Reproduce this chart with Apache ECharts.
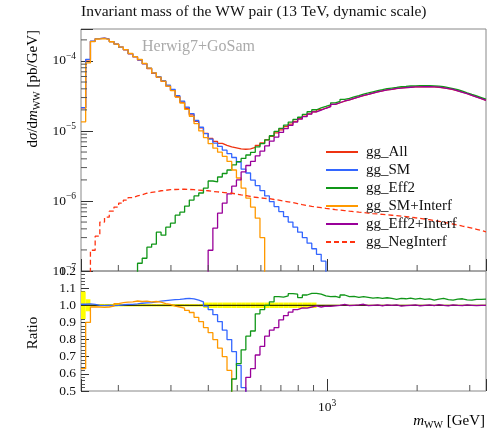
<!DOCTYPE html>
<html><head><meta charset="utf-8">
<script src="https://cdn.jsdelivr.net/npm/echarts@6/dist/echarts.min.js"></script>
<style>html,body{margin:0;padding:0;background:#fff}#c{width:497px;height:428px}</style>
</head><body><div id="c"></div>
<script>
// bin edges of m_WW [GeV]
const binEdges = [150,155.5,161.3,167.3,173.4,179.8,186.5,193.4,200.5,207.9,215.6,223.6,231.9,240.4,249.3,258.5,268.1,278.0,288.3,298.9,310.0,321.4,333.3,345.6,358.4,371.7,385.4,399.6,414.4,429.7,445.6,462.1,479.2,496.9,515.2,534.3,554.0,574.5,595.7,617.7,640.6,664.2,688.8,714.3,740.6,768.0,796.4,825.8,856.4,888.0,920.8,954.9,990.1,1027,1065,1104,1145,1187,1231,1277,1324,1373,1423,1476,1531,1587,1646,1707,1770,1835,1903,1973,2046,2122,2200,2282,2366,2453,2544,2638,2736,2837,2941,3050,3163,3280,3400];
const N = null;
const ggAll = [2.14e-5,1.04e-4,1.91e-4,2.08e-4,2.12e-4,2.05e-4,1.89e-4,1.74e-4,1.57e-4,1.44e-4,1.26e-4,1.14e-4,1.03e-4,9.06e-5,7.76e-5,6.64e-5,5.82e-5,5.10e-5,4.38e-5,3.79e-5,3.08e-5,2.57e-5,2.11e-5,1.70e-5,1.37e-5,1.11e-5,9.24e-6,7.83e-6,7.10e-6,6.64e-6,6.22e-6,5.92e-6,5.73e-6,5.54e-6,5.48e-6,5.54e-6,5.82e-6,6.22e-6,6.76e-6,7.46e-6,8.37e-6,9.40e-6,1.04e-5,1.15e-5,1.25e-5,1.37e-5,1.50e-5,1.63e-5,1.76e-5,1.88e-5,2.01e-5,2.12e-5,2.24e-5,2.40e-5,2.53e-5,2.67e-5,2.79e-5,2.92e-5,3.06e-5,3.21e-5,3.34e-5,3.48e-5,3.61e-5,3.74e-5,3.85e-5,3.94e-5,4.04e-5,4.12e-5,4.17e-5,4.21e-5,4.25e-5,4.27e-5,4.28e-5,4.28e-5,4.27e-5,4.21e-5,4.14e-5,4.04e-5,3.91e-5,3.75e-5,3.58e-5,3.40e-5,3.23e-5,3.06e-5,2.90e-5,2.74e-5];
const ggSM = [2.15e-5,1.05e-4,1.92e-4,2.08e-4,2.12e-4,2.05e-4,1.89e-4,1.74e-4,1.57e-4,1.45e-4,1.27e-4,1.15e-4,1.04e-4,9.17e-5,7.88e-5,6.77e-5,5.95e-5,5.23e-5,4.50e-5,3.91e-5,3.19e-5,2.67e-5,2.19e-5,1.77e-5,1.41e-5,1.13e-5,9.19e-6,7.63e-6,6.71e-6,6.01e-6,5.32e-6,4.74e-6,4.18e-6,3.60e-6,2.85e-6,2.51e-6,1.99e-6,1.66e-6,1.41e-6,1.18e-6,9.80e-7,8.31e-7,7.05e-7,5.98e-7,4.99e-7,4.23e-7,3.58e-7,2.99e-7,2.50e-7,2.08e-7,1.73e-7,1.38e-7,6e-8,N,N,N,N,N,N,N,N,N,N,N,N,N,N,N,N,N,N,N,N,N,N,N,N,N,N,N,N,N,N,N,N,N];
const ggEff2 = [N,N,N,N,N,N,N,N,N,N,N,5e-8,1.29e-7,1.52e-7,2.19e-7,2.42e-7,3.58e-7,3.25e-7,4.23e-7,4.82e-7,6.27e-7,6.93e-7,8.46e-7,1.03e-6,1.18e-6,1.30e-6,1.53e-6,1.93e-6,1.87e-6,2.20e-6,2.47e-6,2.77e-6,3.27e-6,3.66e-6,4.06e-6,4.54e-6,4.95e-6,5.91e-6,6.59e-6,7.46e-6,8.54e-6,9.87e-6,1.09e-5,1.21e-5,1.34e-5,1.46e-5,1.57e-5,1.73e-5,1.88e-5,2.01e-5,2.14e-5,2.24e-5,2.35e-5,2.52e-5,2.64e-5,2.83e-5,2.93e-5,3.07e-5,3.20e-5,3.37e-5,3.49e-5,3.63e-5,3.77e-5,3.89e-5,4.02e-5,4.10e-5,4.18e-5,4.28e-5,4.33e-5,4.39e-5,4.40e-5,4.44e-5,4.43e-5,4.44e-5,4.40e-5,4.36e-5,4.31e-5,4.17e-5,4.03e-5,3.89e-5,3.72e-5,3.51e-5,3.33e-5,3.17e-5,3.00e-5,2.84e-5];
const ggSMInterf = [1.35e-5,9.36e-5,1.89e-4,2.06e-4,2.09e-4,2.03e-4,1.88e-4,1.74e-4,1.58e-4,1.45e-4,1.28e-4,1.15e-4,1.05e-4,9.22e-5,7.92e-5,6.75e-5,5.89e-5,5.14e-5,4.38e-5,3.77e-5,3.05e-5,2.51e-5,2.04e-5,1.62e-5,1.27e-5,1.00e-5,8.04e-6,6.58e-6,5.68e-6,4.98e-6,4.35e-6,3.67e-6,2.77e-6,2.13e-6,1.53e-6,1.10e-6,8.18e-7,5.69e-7,3.0e-7,6e-8,N,N,N,N,N,N,N,N,N,N,N,N,N,N,N,N,N,N,N,N,N,N,N,N,N,N,N,N,N,N,N,N,N,N,N,N,N,N,N,N,N,N,N,N,N,N];
const ggEff2Interf = [N,N,N,N,N,N,N,N,N,N,N,N,N,N,N,N,N,N,N,N,N,N,N,N,N,N,5e-8,1.98e-7,4.1e-7,6.7e-7,9.3e-7,1.26e-6,1.63e-6,2.0e-6,2.6e-6,3.21e-6,3.67e-6,4.42e-6,5.14e-6,6.12e-6,7.16e-6,8.18e-6,9.52e-6,1.08e-5,1.20e-5,1.34e-5,1.48e-5,1.60e-5,1.74e-5,1.87e-5,1.99e-5,2.11e-5,2.23e-5,2.39e-5,2.53e-5,2.68e-5,2.78e-5,2.92e-5,3.07e-5,3.23e-5,3.33e-5,3.48e-5,3.62e-5,3.73e-5,3.86e-5,3.94e-5,4.05e-5,4.10e-5,4.16e-5,4.21e-5,4.26e-5,4.26e-5,4.28e-5,4.29e-5,4.26e-5,4.23e-5,4.14e-5,4.03e-5,3.92e-5,3.75e-5,3.57e-5,3.41e-5,3.23e-5,3.05e-5,2.90e-5,2.74e-5];
const ggNegInterf = [N,5e-8,1.98e-7,3.14e-7,4.99e-7,5.88e-7,7.16e-7,8.18e-7,9.33e-7,1.03e-6,1.12e-6,1.18e-6,1.23e-6,1.29e-6,1.33e-6,1.36e-6,1.40e-6,1.42e-6,1.45e-6,1.46e-6,1.47e-6,1.47e-6,1.46e-6,1.45e-6,1.43e-6,1.41e-6,1.40e-6,1.37e-6,1.35e-6,1.33e-6,1.31e-6,1.29e-6,1.26e-6,1.22e-6,1.19e-6,1.16e-6,1.13e-6,1.11e-6,1.09e-6,1.08e-6,1.05e-6,1.03e-6,1.00e-6,9.74e-7,9.46e-7,9.15e-7,8.85e-7,8.59e-7,8.37e-7,8.18e-7,8.02e-7,7.84e-7,7.68e-7,7.53e-7,7.41e-7,7.29e-7,7.16e-7,7.05e-7,6.93e-7,6.82e-7,6.71e-7,6.60e-7,6.52e-7,6.43e-7,6.34e-7,6.26e-7,6.18e-7,6.08e-7,5.98e-7,5.88e-7,5.76e-7,5.65e-7,5.52e-7,5.40e-7,5.26e-7,5.12e-7,4.97e-7,4.82e-7,4.69e-7,4.53e-7,4.38e-7,4.24e-7,4.09e-7,3.94e-7,3.78e-7,3.63e-7];
// ratio panel (to gg_All)
const ratioSM = [1.006,1.008,1.005,1.0,0.998,1.0,0.998,1.0,1.003,1.005,1.005,1.008,1.012,1.014,1.016,1.02,1.024,1.027,1.03,1.033,1.035,1.038,1.04,1.037,1.03,1.02,0.995,0.975,0.945,0.905,0.855,0.8,0.73,0.65,0.52,0.3,N,N,N,N,N,N,N,N,N,N,N,N,N,N,N,N,N,N,N,N,N,N,N,N,N,N,N,N,N,N,N,N,N,N,N,N,N,N,N,N,N,N,N,N,N,N,N,N,N,N];
const ratioSMInterf = [0.63,0.9,0.99,0.99,0.988,0.99,0.995,1.01,1.015,1.018,1.02,1.025,1.022,1.024,1.02,1.022,1.018,1.01,1.005,0.995,0.99,0.983,0.97,0.958,0.93,0.905,0.87,0.84,0.8,0.75,0.7,0.62,0.4,N,N,N,N,N,N,N,N,N,N,N,N,N,N,N,N,N,N,N,N,N,N,N,N,N,N,N,N,N,N,N,N,N,N,N,N,N,N,N,N,N,N,N,N,N,N,N,N,N,N,N,N,N];
const ratioEff2 = [N,N,N,N,N,N,N,N,N,N,N,N,N,N,N,N,N,N,N,N,N,N,N,N,N,N,N,N,N,N,N,0.3,0.57,0.66,0.74,0.82,0.85,0.95,0.975,1.0,1.02,1.05,1.047,1.055,1.068,1.065,1.045,1.06,1.07,1.07,1.065,1.055,1.05,1.052,1.045,1.06,1.05,1.052,1.046,1.05,1.046,1.042,1.045,1.04,1.044,1.04,1.035,1.04,1.038,1.042,1.036,1.04,1.034,1.038,1.03,1.036,1.04,1.033,1.03,1.036,1.038,1.032,1.03,1.035,1.034,1.036];
const ratioEff2Interf = [N,N,N,N,N,N,N,N,N,N,N,N,N,N,N,N,N,N,N,N,N,N,N,N,N,N,N,N,N,N,N,N,N,N,0.3,0.58,0.63,0.71,0.76,0.82,0.855,0.87,0.915,0.94,0.96,0.975,0.985,0.983,0.99,0.996,0.99,0.995,0.994,0.997,1.0,1.005,0.998,1.0,1.002,1.006,0.998,1.0,1.002,0.996,1.003,1.0,1.002,0.995,0.998,1.0,1.002,0.997,1.0,1.002,0.998,1.004,1.0,0.997,1.003,1.0,0.998,1.002,1.0,0.998,1.0,1.0];
const allRatioErr = [0.08,0.035,0.007,0.007,0.007,0.007,0.007,0.007,0.007,0.007,0.007,0.007,0.007,0.007,0.007,0.007,0.007,0.007,0.007,0.007,0.007,0.007,0.007,0.007,0.007,0.007,0.016,0.016,0.016,0.016,0.016,0.016,0.016,0.016,0.016,0.016,0.016,0.016,0.016,0.016,0.016,0.016,0.016,0.016,0.016,0.016,0.016,0.016,0.016,0.016,0.003,0.003,0.003,0.003,0.003,0.003,0.003,0.003,0.003,0.003,0.003,0.003,0.003,0.003,0.003,0.003,0.003,0.003,0.003,0.003,0.003,0.003,0.003,0.003,0.003,0.003,0.003,0.003,0.003,0.003,0.003,0.003,0.003,0.003,0.003,0.003];
// tick values
const yMinorTicks = [2e-7,3e-7,4e-7,5e-7,6e-7,7e-7,8e-7,9e-7,2e-6,3e-6,4e-6,5e-6,6e-6,7e-6,8e-6,9e-6,2e-5,3e-5,4e-5,5e-5,6e-5,7e-5,8e-5,9e-5,2e-4];
const xMinorTicks = [200,300,400,500,600,700,800,900,2000,3000];
const names = ['gg_All','gg_SM','gg_Eff2','gg_SM+Interf','gg_Eff2+Interf','gg_NegInterf'];
const colors = ['#ee3311','#3366ff','#109618','#ff9900','#990099','#ff3311'];

const XMIN = 150, XMAX = 3400, YMIN = 1e-7, YMAX = 2.86e-4;
const FONT = 'Liberation Serif';

function hist(vals){
  const pts = [];
  for (let i = 0; i < vals.length; i++){
    const v = vals[i];
    if (v == null){ pts.push([binEdges[i], '-']); continue; }
    pts.push([binEdges[i], v], [binEdges[i+1], v]);
  }
  return pts;
}
function lineSeries(name, vals, color, xi, dashed){
  return {type:'line', name, data: hist(vals), xAxisIndex: xi, yAxisIndex: xi,
    symbol:'none', showSymbol:false, clip:true, silent:true, animation:false, connectNulls:false,
    lineStyle:{width:1.3, color, type: dashed ? [5,3] : 'solid'}, itemStyle:{color}, z: 3};
}
function tickSeries(xi, data, dir){
  return {type:'custom', xAxisIndex: xi, yAxisIndex: xi, silent:true, animation:false, clip:false, z: 5,
    data: data,
    renderItem(params, api){
      const p = api.coord([api.value(0), api.value(1)]);
      const len = 6;
      const shape = dir === 'x' ? {x1:p[0], y1:p[1], x2:p[0]+len, y2:p[1]} : {x1:p[0], y1:p[1], x2:p[0], y2:p[1]-len};
      return {type:'line', shape, style:{stroke:'#555', lineWidth:1}};
    }};
}
const supRich = {
  b: {fontFamily: FONT, fontSize: 13.5, color:'#111', lineHeight: 18},
  sup: {fontFamily: FONT, fontSize: 9.5, color:'#111', lineHeight: 10, verticalAlign:'top'}
};

const chart = echarts.init(document.getElementById('c'), null, {renderer:'canvas'});
const series = [];
const upperVals = [ggAll, ggSM, ggEff2, ggSMInterf, ggEff2Interf, ggNegInterf];
upperVals.forEach((v, i) => series.push(lineSeries(names[i], v, colors[i], 0, i === 5)));
// ratio band of reference
series.push({type:'custom', xAxisIndex:1, yAxisIndex:1, silent:true, animation:false, z:1, clip:true,
  data: allRatioErr.map((e, i) => [binEdges[i], 1, binEdges[i+1], e]),
  encode: {x: 0, y: 1},
  renderItem(params, api){
    const p0 = api.coord([api.value(0), 1 + api.value(3)]);
    const p1 = api.coord([api.value(2), 1 - api.value(3)]);
    return {type:'rect', shape:{x:p0[0], y:p0[1], width:p1[0]-p0[0], height:Math.max(1.2, p1[1]-p0[1])}, style:{fill:'#ffff00'}};
  }});
series.push({type:'line', name:'gg_All', xAxisIndex:1, yAxisIndex:1, data:[[XMIN,1],[XMAX,1]], symbol:'none', silent:true, animation:false,
  lineStyle:{width:1.3, color:'#3a3a00'}, z:2});
series.push(lineSeries('gg_SM', ratioSM, colors[1], 1));
series.push(lineSeries('gg_SM+Interf', ratioSMInterf, colors[3], 1));
series.push(lineSeries('gg_Eff2', ratioEff2, colors[2], 1));
series.push(lineSeries('gg_Eff2+Interf', ratioEff2Interf, colors[4], 1));
// minor ticks
series.push(tickSeries(0, yMinorTicks.map(v => [XMIN, v]), 'x'));
series.push(tickSeries(0, xMinorTicks.map(v => [v, YMIN]), 'y'));
series.push(tickSeries(1, xMinorTicks.map(v => [v, 0.5]), 'y'));

const tickStyle = {show:true, inside:true, length:12, lineStyle:{color:'#333', width:1}};
chart.setOption({
  animation:false,
  grid:[
    {left:81, top:29, width:405, height:242, show:true, borderColor:'#888', borderWidth:1, backgroundColor:'transparent'},
    {left:81, top:271, width:405, height:120, show:true, borderColor:'#888', borderWidth:1, backgroundColor:'transparent'}
  ],
  xAxis:[
    {type:'log', gridIndex:0, min:XMIN, max:XMAX, axisLine:{show:false}, axisTick:tickStyle, axisLabel:{show:false}, splitLine:{show:false}},
    {type:'log', gridIndex:1, min:XMIN, max:XMAX, axisLine:{show:false}, axisTick:tickStyle, splitLine:{show:false},
      axisLabel:{show:true, margin:7, formatter: v => Math.abs(v - 1000) < 1 ? '{b|10}{sup|3}' : '', rich: supRich}}
  ],
  yAxis:[
    {type:'log', gridIndex:0, min:YMIN, max:YMAX, axisLine:{show:false}, axisTick:tickStyle, splitLine:{show:false},
      axisLabel:{show:true, margin:5, rich: supRich, formatter: v => {
        const e = Math.log10(v), r = Math.round(e);
        if (Math.abs(e - r) > 1e-6) return '';
        return '{b|10}{sup|\u2212' + (-r) + '}';
      }}},
    {type:'value', gridIndex:1, min:0.5, max:1.2, interval:0.1, axisLine:{show:false},
      axisTick:{show:true, inside:true, length:8, lineStyle:{color:'#333'}},
      minorTick:{show:true, splitNumber:5, length:4, lineStyle:{color:'#555'}},
      splitLine:{show:false},
      axisLabel:{margin:5, fontFamily:FONT, fontSize:13.5, color:'#111', formatter: v => v.toFixed(1)}}
  ],
  legend:{data:names, orient:'vertical', left:320, top:138, itemWidth:32, itemHeight:10, itemGap:0, selectedMode:false,
    itemStyle:{opacity:0},
    textStyle:{fontFamily:FONT, fontSize:15, color:'#111', lineHeight:18, padding:[0,0,0,3]}},
  graphic:[
    {type:'text', left:81, top:4, silent:true, style:{text:'Invariant mass of the WW pair (13 TeV, dynamic scale)', font:'15.5px "Liberation Serif"', fill:'#111'}},
    {type:'text', left:142, top:39, silent:true, style:{text:'Herwig7+GoSam', font:'16px "Liberation Serif"', fill:'#aaaaaa'}},
    {type:'text', x:33, y:30, rotation:Math.PI/2, silent:true, style:{
      text:'{n|d}{i|\u03c3}{n|/d}{i|m}{s|WW}{n| [pb/GeV]}', align:'right', verticalAlign:'middle',
      rich:{n:{fontFamily:FONT, fontSize:15, lineHeight:18, color:'#111'}, i:{fontFamily:FONT, fontSize:15, fontStyle:'italic', lineHeight:18, color:'#111'},
            s:{fontFamily:FONT, fontSize:10, lineHeight:10, verticalAlign:'bottom', color:'#111'}}}},
    {type:'text', x:33, y:333, rotation:Math.PI/2, silent:true, style:{text:'Ratio', font:'15px "Liberation Serif"', fill:'#111', align:'center', verticalAlign:'middle'}},
    {type:'text', x:485, y:421, silent:true, style:{
      text:'{i|m}{s|WW}{n| [GeV]}', align:'right', verticalAlign:'middle',
      rich:{n:{fontFamily:FONT, fontSize:15, lineHeight:18, color:'#111'}, i:{fontFamily:FONT, fontSize:15, fontStyle:'italic', lineHeight:18, color:'#111'},
            s:{fontFamily:FONT, fontSize:10, lineHeight:10, verticalAlign:'bottom', color:'#111'}}}}
  ],
  series
});
</script>
</body></html>
